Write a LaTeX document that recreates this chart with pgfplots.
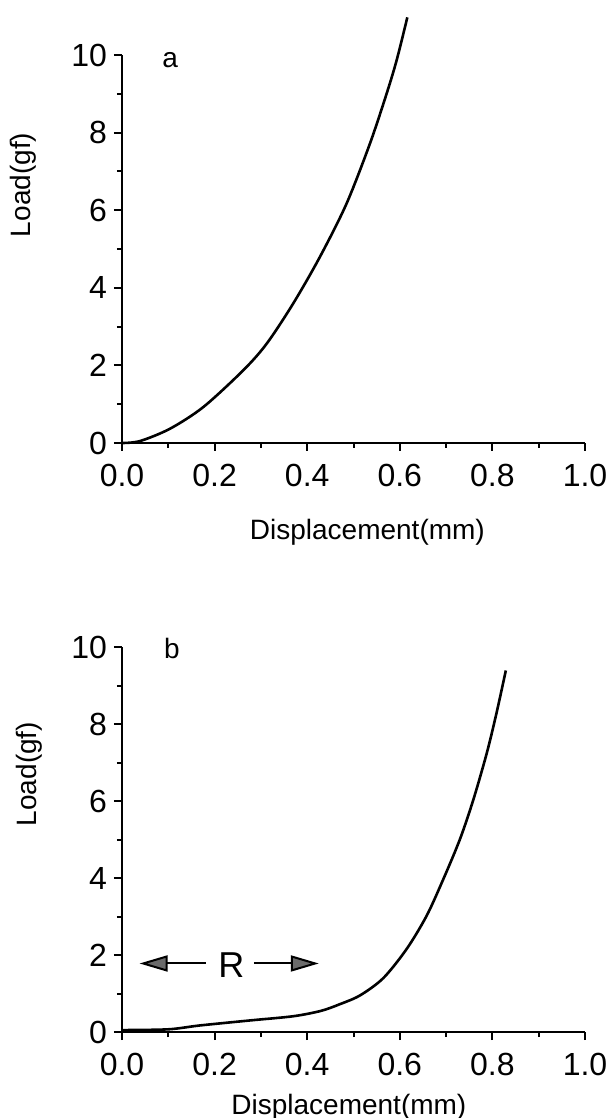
\documentclass[border=0pt]{standalone}
\usepackage{pgfplots}
\pgfplotsset{compat=1.18}
\usepackage{fontspec}
\setmainfont{Liberation Sans}
\usetikzlibrary{arrows.meta}

\pgfplotsset{
  loadplot/.style={
    scale only axis, width=231.5pt,
    xmin=0, xmax=1, ymin=0, ymax=10,
    axis lines=left, axis line style={-, line width=1.1pt},
    xtick={0,0.2,0.4,0.6,0.8,1.0}, minor x tick num=1,
    ytick={0,2,4,6,8,10}, minor y tick num=1,
    tick align=outside, major tick length=4pt, minor tick length=2.5pt,
    every tick/.style={black, line width=1pt},
    /pgf/number format/assume math mode=true,
    xticklabel style={yshift=-3pt, /pgf/number format/.cd, fixed, fixed zerofill, precision=1},
    ticklabel style={font=\fontsize{16}{19}\selectfont},
    clip=false,
  }
}

\begin{document}
\begin{tikzpicture}
% panel a
\begin{axis}[loadplot, height=194pt]
\addplot[black, line width=1.3pt, smooth] coordinates {
  (0,0) (0.039,0.05) (0.104,0.37) (0.176,0.93) (0.262,1.875) (0.3125,2.56)
  (0.370,3.60) (0.4276,4.80) (0.485,6.17) (0.5356,7.72) (0.5717,9.01)
  (0.5933,9.87) (0.6163,10.97)
};
\node[font=\fontsize{14}{17}\selectfont] at (axis description cs:0.104,0.987) {a};
\node[font=\fontsize{14}{17}\selectfont, rotate=90] at (axis description cs:-0.214,0.665) {Load(gf)};
\node[font=\fontsize{14}{17}\selectfont] at (axis description cs:0.53,-0.229) {Displacement(mm)};
\end{axis}
% panel b
\begin{axis}[loadplot, height=192.5pt, at={(0pt,-294.5pt)}]
\addplot[black, line width=1.3pt, smooth] coordinates {
  (0,0.05) (0.1,0.07) (0.168,0.17) (0.276,0.30) (0.37,0.41) (0.43,0.55)
  (0.47,0.72) (0.514,0.95) (0.5644,1.40) (0.615,2.16) (0.658,3.02)
  (0.694,3.97) (0.730,5.01) (0.759,6.04) (0.788,7.25) (0.809,8.29) (0.829,9.39)
};
\node[font=\fontsize{14}{17}\selectfont] at (axis description cs:0.108,0.995) {b};
\node[font=\fontsize{14}{17}\selectfont, rotate=90] at (axis description cs:-0.201,0.67) {Load(gf)};
\node[font=\fontsize{14}{17}\selectfont] at (axis description cs:0.49,-0.196) {Displacement(mm)};
\node[font=\fontsize{18}{21}\selectfont] at (axis cs:0.236,1.74) {R};
\draw[line width=1pt, -{Triangle[length=14pt,width=8pt,fill=gray!55!black!80]}] (axis cs:0.181,1.78) -- (axis cs:0.038,1.78);
\draw[line width=1pt, -{Triangle[length=14pt,width=8pt,fill=gray!55!black!80]}] (axis cs:0.285,1.78) -- (axis cs:0.425,1.78);
\end{axis}
\pgfresetboundingbox
\path[use as bounding box] (-61pt,221.5pt) rectangle (244.5pt,-337.5pt);
\end{tikzpicture}
\end{document}
